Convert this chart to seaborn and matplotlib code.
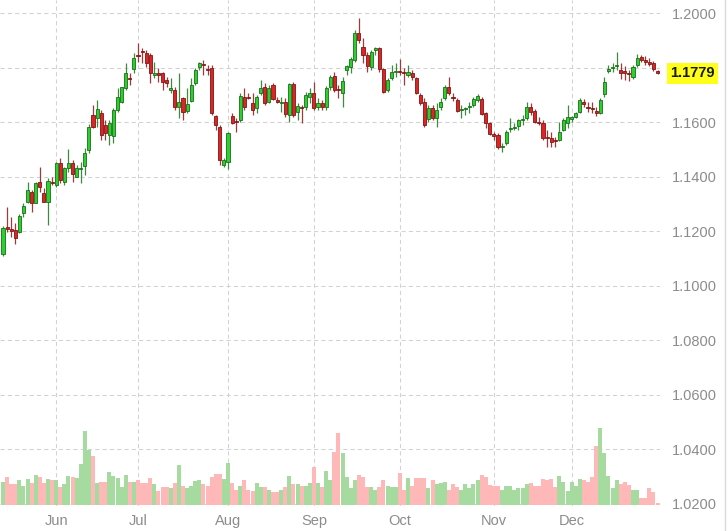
import numpy as np
import pandas as pd
import seaborn as sns
import matplotlib.pyplot as plt
from matplotlib import transforms

# daily OHLC (mid May -> end Dec)
opens = [
    1.1116, 1.1215, 1.1207, 1.1204, 1.1196, 1.1266, 1.1306, 1.1343, 1.1303, 1.1379,
    1.1339, 1.1306, 1.1379, 1.1369, 1.1449, 1.1379, 1.1431, 1.1449, 1.1398, 1.1429,
    1.1438, 1.1497, 1.1626, 1.1615, 1.1633, 1.1589, 1.1552, 1.1549, 1.1644, 1.1673,
    1.1725, 1.1761, 1.1794, 1.1846, 1.1860, 1.1853, 1.1846, 1.1772, 1.1780, 1.1780,
    1.1754, 1.1717, 1.1717, 1.1655, 1.1688, 1.1640, 1.1677, 1.1743, 1.1802, 1.1813,
    1.1794, 1.1798, 1.1622, 1.1582, 1.1442, 1.1453, 1.1622, 1.1604, 1.1607, 1.1692,
    1.1692, 1.1670, 1.1651, 1.1706, 1.1728, 1.1673, 1.1736, 1.1681, 1.1669, 1.1673,
    1.1626, 1.1739, 1.1637, 1.1655, 1.1655, 1.1692, 1.1706, 1.1655, 1.1670, 1.1655,
    1.1728, 1.1769, 1.1720, 1.1706, 1.1790, 1.1802, 1.1828, 1.1927, 1.1875, 1.1846,
    1.1802, 1.1864, 1.1872, 1.1794, 1.1717, 1.1761, 1.1782, 1.1787, 1.1783, 1.1772,
    1.1780, 1.1761, 1.1699, 1.1673, 1.1611, 1.1651, 1.1615, 1.1655, 1.1688, 1.1728,
    1.1693, 1.1681, 1.1644, 1.1648, 1.1655, 1.1662, 1.1681, 1.1684, 1.1633, 1.1596,
    1.1556, 1.1552, 1.1508, 1.1523, 1.1574, 1.1578, 1.1585, 1.1607, 1.1615, 1.1655,
    1.1640, 1.1600, 1.1596, 1.1544, 1.1541, 1.1534, 1.1534, 1.1571, 1.1596, 1.1611,
    1.1618, 1.1637, 1.1673, 1.1655, 1.1651, 1.1640, 1.1633, 1.1703, 1.1787, 1.1798,
    1.1806, 1.1791, 1.1787, 1.1780, 1.1765, 1.1809, 1.1839, 1.1828, 1.1820, 1.1817,
    1.1787,
]
highs = [
    1.1218, 1.1288, 1.1251, 1.1229, 1.1262, 1.1303, 1.1379, 1.1350, 1.1379, 1.1434,
    1.1358, 1.1394, 1.1398, 1.1453, 1.1468, 1.1434, 1.1501, 1.1460, 1.1442, 1.1453,
    1.1504, 1.1593, 1.1662, 1.1681, 1.1644, 1.1607, 1.1607, 1.1651, 1.1725, 1.1728,
    1.1817, 1.1780, 1.1853, 1.1890, 1.1872, 1.1864, 1.1853, 1.1820, 1.1798, 1.1783,
    1.1765, 1.1761, 1.1728, 1.1780, 1.1692, 1.1725, 1.1761, 1.1798, 1.1820, 1.1828,
    1.1809, 1.1809, 1.1626, 1.1589, 1.1468, 1.1563, 1.1633, 1.1615, 1.1706, 1.1725,
    1.1706, 1.1706, 1.1699, 1.1754, 1.1743, 1.1736, 1.1743, 1.1692, 1.1692, 1.1688,
    1.1743, 1.1747, 1.1670, 1.1662, 1.1710, 1.1725, 1.1747, 1.1688, 1.1681, 1.1732,
    1.1772, 1.1783, 1.1736, 1.1765, 1.1809, 1.1839, 1.1938, 1.1982, 1.1908, 1.1857,
    1.1864, 1.1875, 1.1875, 1.1798, 1.1761, 1.1809, 1.1817, 1.1831, 1.1798, 1.1809,
    1.1791, 1.1765, 1.1706, 1.1688, 1.1662, 1.1662, 1.1670, 1.1688, 1.1736, 1.1765,
    1.1706, 1.1688, 1.1662, 1.1655, 1.1673, 1.1692, 1.1703, 1.1692, 1.1637, 1.1600,
    1.1563, 1.1560, 1.1523, 1.1571, 1.1615, 1.1596, 1.1611, 1.1626, 1.1673, 1.1670,
    1.1648, 1.1618, 1.1607, 1.1571, 1.1563, 1.1545, 1.1600, 1.1615, 1.1662, 1.1622,
    1.1637, 1.1688, 1.1684, 1.1673, 1.1673, 1.1655, 1.1688, 1.1765, 1.1809, 1.1817,
    1.1857, 1.1817, 1.1806, 1.1791, 1.1809, 1.1849, 1.1846, 1.1842, 1.1835, 1.1824,
    1.1791,
]
lows = [
    1.1108, 1.1196, 1.1178, 1.1152, 1.1193, 1.1251, 1.1303, 1.1270, 1.1303, 1.1343,
    1.1306, 1.1222, 1.1369, 1.1361, 1.1376, 1.1369, 1.1416, 1.1379, 1.1398, 1.1376,
    1.1405, 1.1486, 1.1578, 1.1582, 1.1534, 1.1534, 1.1515, 1.1523, 1.1637, 1.1670,
    1.1717, 1.1736, 1.1780, 1.1820, 1.1817, 1.1802, 1.1743, 1.1761, 1.1747, 1.1717,
    1.1728, 1.1706, 1.1644, 1.1615, 1.1607, 1.1633, 1.1673, 1.1736, 1.1791, 1.1772,
    1.1772, 1.1626, 1.1571, 1.1442, 1.1434, 1.1427, 1.1593, 1.1563, 1.1600, 1.1644,
    1.1684, 1.1626, 1.1633, 1.1699, 1.1662, 1.1670, 1.1681, 1.1670, 1.1637, 1.1618,
    1.1600, 1.1618, 1.1607, 1.1596, 1.1644, 1.1670, 1.1644, 1.1644, 1.1644, 1.1644,
    1.1717, 1.1710, 1.1688, 1.1655, 1.1772, 1.1780, 1.1820, 1.1890, 1.1817, 1.1783,
    1.1791, 1.1846, 1.1783, 1.1706, 1.1710, 1.1754, 1.1765, 1.1772, 1.1736, 1.1765,
    1.1754, 1.1703, 1.1662, 1.1582, 1.1600, 1.1607, 1.1582, 1.1644, 1.1681, 1.1699,
    1.1677, 1.1637, 1.1615, 1.1626, 1.1633, 1.1655, 1.1673, 1.1626, 1.1578, 1.1552,
    1.1534, 1.1501, 1.1490, 1.1515, 1.1563, 1.1571, 1.1571, 1.1589, 1.1607, 1.1626,
    1.1596, 1.1589, 1.1534, 1.1508, 1.1508, 1.1508, 1.1530, 1.1567, 1.1578, 1.1600,
    1.1615, 1.1633, 1.1655, 1.1637, 1.1633, 1.1622, 1.1629, 1.1692, 1.1780, 1.1783,
    1.1791, 1.1758, 1.1754, 1.1750, 1.1758, 1.1802, 1.1820, 1.1809, 1.1806, 1.1787,
    1.1776,
]
closes = [
    1.1211, 1.1207, 1.1200, 1.1174, 1.1255, 1.1292, 1.1350, 1.1303, 1.1376, 1.1361,
    1.1306, 1.1383, 1.1376, 1.1449, 1.1387, 1.1431, 1.1449, 1.1409, 1.1431, 1.1433,
    1.1486, 1.1582, 1.1582, 1.1648, 1.1552, 1.1560, 1.1596, 1.1644, 1.1692, 1.1728,
    1.1780, 1.1758, 1.1835, 1.1842, 1.1857, 1.1817, 1.1780, 1.1780, 1.1772, 1.1747,
    1.1743, 1.1725, 1.1655, 1.1673, 1.1637, 1.1666, 1.1736, 1.1791, 1.1817, 1.1809,
    1.1791, 1.1633, 1.1589, 1.1460, 1.1460, 1.1560, 1.1596, 1.1600, 1.1695, 1.1655,
    1.1688, 1.1644, 1.1692, 1.1725, 1.1670, 1.1725, 1.1684, 1.1673, 1.1675, 1.1629,
    1.1739, 1.1626, 1.1659, 1.1651, 1.1699, 1.1706, 1.1651, 1.1670, 1.1655, 1.1725,
    1.1765, 1.1717, 1.1716, 1.1750, 1.1806, 1.1831, 1.1927, 1.1901, 1.1846, 1.1806,
    1.1857, 1.1872, 1.1794, 1.1710, 1.1754, 1.1783, 1.1786, 1.1783, 1.1780, 1.1783,
    1.1765, 1.1706, 1.1670, 1.1589, 1.1651, 1.1615, 1.1644, 1.1673, 1.1728, 1.1706,
    1.1689, 1.1640, 1.1648, 1.1651, 1.1659, 1.1684, 1.1695, 1.1629, 1.1596, 1.1556,
    1.1549, 1.1508, 1.1512, 1.1563, 1.1578, 1.1582, 1.1607, 1.1611, 1.1655, 1.1637,
    1.1600, 1.1596, 1.1541, 1.1540, 1.1526, 1.1530, 1.1563, 1.1607, 1.1618, 1.1618,
    1.1633, 1.1681, 1.1666, 1.1651, 1.1648, 1.1633, 1.1681, 1.1747, 1.1794, 1.1802,
    1.1809, 1.1780, 1.1780, 1.1776, 1.1802, 1.1835, 1.1828, 1.1820, 1.1813, 1.1794,
    1.1779,
]
volumes = [
    23, 28, 21, 21, 25, 19, 26, 22, 30, 28,
    22, 26, 25, 25, 18, 21, 29, 28, 27, 41,
    74, 55, 49, 22, 23, 23, 33, 29, 27, 18,
    30, 23, 23, 25, 22, 22, 27, 21, 14, 18,
    18, 17, 22, 40, 19, 17, 19, 24, 25, 21,
    19, 28, 31, 31, 26, 42, 22, 15, 19, 25,
    15, 14, 22, 18, 18, 15, 13, 13, 15, 18,
    29, 21, 21, 19, 19, 22, 38, 22, 18, 34,
    25, 53, 72, 52, 28, 17, 25, 30, 28, 18,
    18, 15, 18, 25, 19, 18, 18, 32, 15, 27,
    19, 27, 27, 27, 17, 25, 21, 22, 23, 15,
    21, 18, 15, 21, 17, 21, 25, 30, 28, 20,
    19, 19, 15, 19, 19, 15, 17, 17, 21, 22,
    19, 19, 26, 25, 26, 18, 29, 23, 14, 23,
    19, 26, 25, 23, 28, 59, 77, 52, 29, 17,
    25, 21, 23, 20, 15, 15, 7, 7, 17, 13,
    2,
]

month_starts = [13, 33, 55, 76, 97, 120, 139]
month_labels = ['Jun', 'Jul', 'Aug', 'Sep', 'Oct', 'Nov', 'Dec']
price_ticks = [1.02, 1.04, 1.06, 1.08, 1.10, 1.12, 1.14, 1.16, 1.18, 1.20]
last_price = 1.1779

df = pd.DataFrame({'open': opens, 'high': highs, 'low': lows,
                   'close': closes, 'volume': volumes})
df['idx'] = np.arange(len(df))
df['dir'] = np.where(df['close'] >= df['open'], 'up', 'down')
up = (df['dir'] == 'up').to_numpy()

sns.set_style('white')
plt.rcParams['font.family'] = ['Liberation Sans', 'DejaVu Sans']

fig = plt.figure(figsize=(7.28, 5.31), dpi=100)
ax = fig.add_axes([0, 25 / 531, 660 / 728, 506 / 531])
ax_vol = ax.twinx()

# volume bars at the bottom, coloured by candle direction
sns.barplot(data=df, x='idx', y='volume', hue='dir',
            palette={'up': '#a6dba0', 'down': '#ffb8b8'},
            dodge=False, width=0.97, saturation=1, errorbar=None,
            legend=False, linewidth=0, ax=ax_vol)

# candles
body_low = df[['open', 'close']].min(axis=1)
body_h = (df['close'] - df['open']).abs().clip(lower=0.0002)
ax.vlines(df['idx'], df['low'], df['high'],
          colors=np.where(up, '#3d8c3d', '#a03a3a'), linewidth=0.9, zorder=2)
ax.bar(df['idx'], body_h, bottom=body_low, width=0.76,
       color=np.where(up, '#2bd12b', '#e02424'),
       edgecolor=np.where(up, '#1d6b1d', '#7d1616'), linewidth=0.6, zorder=3)

ax.set_xlim(-0.73, 160.6)
ax.set_ylim(1.0191, 1.2048)
ax_vol.set_ylim(-1, 505)

ax.set_xticks(month_starts, month_labels)
ax.set_yticks(price_ticks, [f'{t:.4f}' for t in price_ticks])
ax.yaxis.tick_right()
ax.tick_params(length=0, labelsize=10.5, labelcolor='#8c8c8c')
ax.tick_params(axis='y', pad=8.5)
ax.tick_params(axis='x', pad=6)
ax.grid(True, linestyle=(0, (4, 3)), color='#d2d2d2', linewidth=0.75)
ax.set_xlabel('')
ax.set_ylabel('')

ax_vol.set_yticks([])
ax_vol.set_xlabel('')
ax_vol.set_ylabel('')
ax_vol.xaxis.set_visible(False)
for a in (ax, ax_vol):
    for s in a.spines.values():
        s.set_visible(False)

# last price tag over the right axis
trans = transforms.blended_transform_factory(ax.transAxes, ax.transData)
ax.text(1.016, last_price, f'{last_price:.4f}', transform=trans,
        ha='left', va='center', fontsize=10.5, fontweight='bold', color='#1a1a1a',
        bbox=dict(boxstyle='square,pad=0.22', fc='#ffff1a', ec='none'),
        zorder=10, clip_on=False)

fig.add_artist(plt.Line2D([725 / 728, 725 / 728], [0, 1], color='#d9d9d9',
                          linewidth=1, transform=fig.transFigure))

fig.savefig('out.png', dpi=100)
